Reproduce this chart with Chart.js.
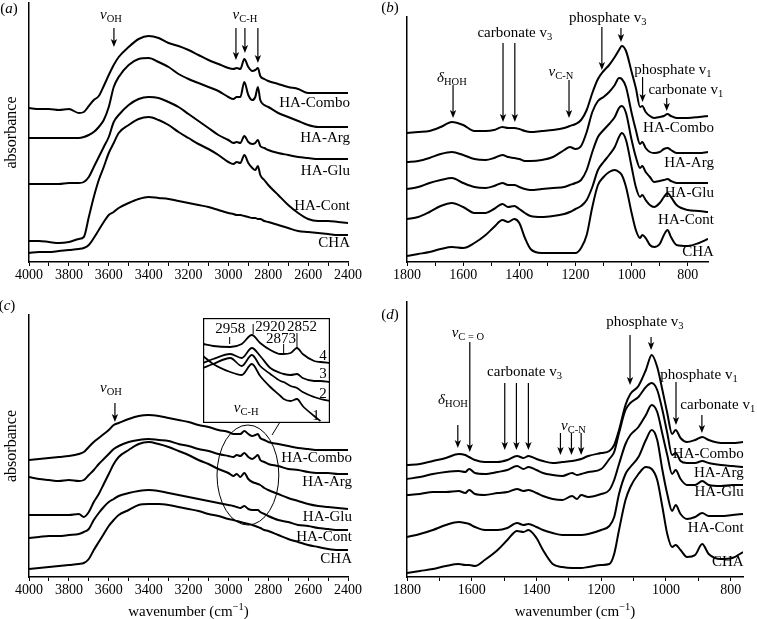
<!DOCTYPE html>
<html>
<head>
<meta charset="utf-8">
<script src="https://cdn.jsdelivr.net/npm/chart.js@4.4.0/dist/chart.umd.min.js"></script>
<style>
  body { margin: 0; background: #fff; overflow: hidden; }
  #wrap { position: relative; width: 757px; height: 619px; }
  canvas { position: absolute; }
</style>
</head>
<body>
<div id="wrap">
  <canvas id="ca" width="378" height="300" style="left:0;top:0"></canvas>
  <canvas id="cb" width="379" height="300" style="left:378px;top:0"></canvas>
  <canvas id="cc" width="378" height="319" style="left:0;top:300px"></canvas>
  <canvas id="cd" width="379" height="319" style="left:378px;top:300px"></canvas>
  <canvas id="cin" width="127" height="105" style="left:203px;top:318px"></canvas>
</div>
<script>
var FONT = '"Liberation Serif", "Times New Roman", serif';
var seriesNames = ['HA-Combo', 'HA-Arg', 'HA-Glu', 'HA-Cont', 'CHA'];

// tick values
var ticksHigh = [4000, 3900, 3800, 3700, 3600, 3500, 3400, 3300, 3200, 3100, 3000, 2900, 2800, 2700, 2600, 2500, 2400];
var ticksLow = [1800, 1700, 1600, 1500, 1400, 1300, 1200, 1100, 1000, 900, 800];

// panels (a) and (c): wavenumber grid
var waveAC = [4000, 3950, 3900, 3850, 3800, 3750, 3725, 3700, 3675, 3650, 3625, 3600, 3575, 3550, 3500,
  3450, 3400, 3350, 3300, 3250, 3200, 3150, 3100, 3050, 3000, 2975, 2958, 2940, 2920, 2900,
  2880, 2865, 2852, 2840, 2820, 2800, 2750, 2700, 2650, 2600, 2550, 2500, 2450, 2400];

var aCombo = [1.54, 1.53, 1.53, 1.52, 1.53, 1.49, 1.50, 1.56, 1.62, 1.66, 1.76, 1.87, 1.97, 2.05, 2.15,
  2.23, 2.26, 2.24, 2.19, 2.16, 2.12, 2.07, 2.02, 1.98, 1.94, 1.93, 1.94, 1.93, 2.03, 1.95,
  1.91, 1.92, 1.94, 1.86, 1.83, 1.81, 1.78, 1.75, 1.73, 1.69, 1.69, 1.69, 1.69, 1.69];
var aArg = [1.24, 1.24, 1.24, 1.24, 1.24, 1.24, 1.25, 1.27, 1.30, 1.35, 1.42, 1.55, 1.75, 1.85, 1.97,
  2.03, 2.04, 2.00, 1.95, 1.88, 1.83, 1.79, 1.75, 1.71, 1.65, 1.63, 1.65, 1.65, 1.80, 1.67,
  1.62, 1.65, 1.75, 1.62, 1.57, 1.55, 1.49, 1.45, 1.41, 1.37, 1.35, 1.35, 1.35, 1.35];
var aGlu = [0.78, 0.78, 0.78, 0.78, 0.79, 0.79, 0.80, 0.85, 0.95, 1.05, 1.15, 1.25, 1.40, 1.47, 1.57,
  1.63, 1.65, 1.64, 1.60, 1.55, 1.48, 1.41, 1.34, 1.27, 1.22, 1.19, 1.20, 1.19, 1.26, 1.20,
  1.18, 1.19, 1.22, 1.16, 1.14, 1.12, 1.09, 1.07, 1.05, 1.04, 1.03, 1.03, 1.03, 1.03];
var aCont = [0.21, 0.21, 0.20, 0.19, 0.20, 0.23, 0.25, 0.45, 0.65, 0.82, 0.95, 1.09, 1.19, 1.29, 1.37,
  1.43, 1.45, 1.42, 1.37, 1.30, 1.24, 1.18, 1.13, 1.07, 1.00, 0.98, 1.00, 0.99, 1.07, 0.99,
  0.94, 0.92, 0.96, 0.87, 0.82, 0.77, 0.67, 0.57, 0.49, 0.43, 0.41, 0.41, 0.40, 0.39];
var aCHA = [0.09, 0.10, 0.10, 0.11, 0.12, 0.13, 0.14, 0.17, 0.24, 0.32, 0.40, 0.47, 0.50, 0.54, 0.59,
  0.63, 0.65, 0.64, 0.63, 0.61, 0.59, 0.57, 0.55, 0.52, 0.49, 0.48, 0.47, 0.47, 0.46, 0.45,
  0.44, 0.44, 0.43, 0.43, 0.41, 0.40, 0.37, 0.34, 0.31, 0.30, 0.29, 0.28, 0.27, 0.27];

var cCombo = [1.17, 1.18, 1.19, 1.20, 1.21, 1.23, 1.25, 1.30, 1.35, 1.39, 1.43, 1.47, 1.52, 1.54, 1.58,
  1.61, 1.62, 1.61, 1.59, 1.57, 1.55, 1.52, 1.50, 1.47, 1.45, 1.43, 1.43, 1.43, 1.46, 1.43,
  1.41, 1.42, 1.43, 1.39, 1.37, 1.35, 1.33, 1.31, 1.29, 1.28, 1.27, 1.27, 1.27, 1.27];
var cArg = [1.00, 0.98, 0.97, 0.96, 0.97, 0.96, 0.97, 1.02, 1.07, 1.13, 1.18, 1.23, 1.28, 1.31, 1.35,
  1.37, 1.38, 1.37, 1.36, 1.33, 1.31, 1.28, 1.26, 1.23, 1.21, 1.20, 1.22, 1.21, 1.24, 1.20,
  1.18, 1.20, 1.22, 1.17, 1.15, 1.13, 1.11, 1.08, 1.07, 1.05, 1.04, 1.04, 1.03, 1.03];
var cGlu = [0.62, 0.62, 0.62, 0.62, 0.62, 0.63, 0.60, 0.65, 0.75, 0.83, 0.93, 1.03, 1.13, 1.20, 1.27,
  1.33, 1.35, 1.33, 1.30, 1.26, 1.22, 1.17, 1.13, 1.08, 1.04, 1.01, 1.03, 1.00, 1.04, 0.98,
  0.95, 0.94, 0.93, 0.92, 0.89, 0.87, 0.83, 0.79, 0.76, 0.73, 0.71, 0.70, 0.69, 0.68];
var cCont = [0.39, 0.40, 0.41, 0.41, 0.42, 0.43, 0.45, 0.48, 0.57, 0.64, 0.70, 0.75, 0.78, 0.81, 0.84,
  0.86, 0.87, 0.86, 0.84, 0.82, 0.80, 0.78, 0.76, 0.74, 0.72, 0.71, 0.70, 0.69, 0.71, 0.68,
  0.67, 0.67, 0.67, 0.65, 0.63, 0.61, 0.57, 0.55, 0.52, 0.51, 0.49, 0.48, 0.47, 0.47];
var cCHA = [0.08, 0.09, 0.10, 0.11, 0.12, 0.13, 0.14, 0.18, 0.27, 0.35, 0.43, 0.51, 0.57, 0.62, 0.67,
  0.72, 0.73, 0.73, 0.72, 0.70, 0.68, 0.66, 0.63, 0.61, 0.58, 0.57, 0.56, 0.55, 0.54, 0.53,
  0.52, 0.51, 0.50, 0.49, 0.47, 0.46, 0.42, 0.38, 0.35, 0.32, 0.30, 0.28, 0.27, 0.27];

// panel (b)
var waveB = [1800, 1760, 1720, 1680, 1640, 1600, 1560, 1520, 1490, 1460, 1440, 1418, 1400, 1380, 1360,
  1320, 1280, 1240, 1220, 1200, 1180, 1160, 1140, 1120, 1100, 1080, 1060, 1045, 1035, 1020,
  1000, 985, 970, 962, 950, 935, 920, 900, 885, 872, 860, 840, 800, 760, 728];
var bCombo = [1.29, 1.30, 1.31, 1.35, 1.40, 1.37, 1.31, 1.31, 1.32, 1.35, 1.34, 1.34, 1.33, 1.31, 1.30,
  1.31, 1.32, 1.34, 1.36, 1.38, 1.42, 1.52, 1.69, 1.83, 1.91, 1.97, 2.05, 2.12, 2.16, 2.11,
  1.90, 1.74, 1.55, 1.56, 1.50, 1.46, 1.44, 1.45, 1.46, 1.48, 1.46, 1.44, 1.44, 1.45, 1.46];
var bArg = [1.00, 1.01, 1.04, 1.08, 1.10, 1.07, 1.03, 1.02, 1.04, 1.07, 1.05, 1.04, 1.03, 1.01, 1.01,
  1.02, 1.05, 1.12, 1.15, 1.13, 1.16, 1.30, 1.50, 1.61, 1.65, 1.70, 1.77, 1.84, 1.83, 1.75,
  1.49, 1.32, 1.18, 1.20, 1.14, 1.10, 1.09, 1.10, 1.13, 1.14, 1.12, 1.09, 1.09, 1.09, 1.10];
var bGlu = [0.73, 0.75, 0.79, 0.82, 0.84, 0.79, 0.75, 0.74, 0.76, 0.79, 0.77, 0.77, 0.75, 0.73, 0.72,
  0.73, 0.74, 0.75, 0.77, 0.79, 0.82, 0.92, 1.10, 1.25, 1.32, 1.38, 1.45, 1.54, 1.56, 1.49,
  1.22, 1.05, 0.94, 0.96, 0.90, 0.85, 0.80, 0.81, 0.82, 0.83, 0.81, 0.79, 0.79, 0.79, 0.79];
var bCont = [0.43, 0.45, 0.50, 0.56, 0.59, 0.55, 0.49, 0.49, 0.53, 0.58, 0.55, 0.56, 0.53, 0.49, 0.46,
  0.45, 0.46, 0.48, 0.50, 0.53, 0.56, 0.62, 0.75, 0.92, 1.00, 1.07, 1.15, 1.25, 1.29, 1.22,
  0.95, 0.75, 0.65, 0.67, 0.62, 0.57, 0.55, 0.59, 0.65, 0.69, 0.65, 0.57, 0.52, 0.51, 0.50];
var bCHA = [0.06, 0.08, 0.10, 0.13, 0.15, 0.14, 0.19, 0.27, 0.35, 0.42, 0.40, 0.43, 0.39, 0.24, 0.13,
  0.09, 0.09, 0.09, 0.09, 0.09, 0.14, 0.27, 0.55, 0.77, 0.85, 0.90, 0.92, 0.90, 0.87, 0.75,
  0.49, 0.32, 0.24, 0.27, 0.24, 0.17, 0.15, 0.18, 0.27, 0.32, 0.25, 0.17, 0.16, 0.19, 0.23];

// panel (d)
var waveD = [1800, 1760, 1720, 1680, 1640, 1620, 1608, 1590, 1560, 1520, 1490, 1460, 1440, 1425, 1400,
  1380, 1350, 1320, 1290, 1275, 1262, 1240, 1200, 1175, 1160, 1145, 1125, 1110, 1085, 1062,
  1044, 1027, 1011, 996, 981, 970, 955, 935, 910, 888, 868, 830, 795, 762];
var dCombo = [1.12, 1.13, 1.16, 1.19, 1.23, 1.22, 1.20, 1.17, 1.15, 1.15, 1.17, 1.21, 1.19, 1.21, 1.18,
  1.16, 1.14, 1.15, 1.16, 1.17, 1.18, 1.21, 1.24, 1.26, 1.32, 1.47, 1.72, 1.83, 1.91, 2.07,
  2.22, 2.10, 1.87, 1.64, 1.43, 1.47, 1.39, 1.35, 1.37, 1.40, 1.37, 1.34, 1.34, 1.35];
var dArg = [0.98, 1.00, 1.03, 1.05, 1.06, 1.05, 1.08, 1.04, 1.03, 1.05, 1.07, 1.11, 1.08, 1.10, 1.07,
  1.04, 1.02, 1.01, 1.04, 1.02, 1.03, 1.05, 1.08, 1.18, 1.25, 1.44, 1.67, 1.74, 1.80, 1.90,
  1.94, 1.87, 1.67, 1.44, 1.22, 1.24, 1.16, 1.14, 1.14, 1.16, 1.14, 1.12, 1.11, 1.10];
var dGlu = [0.82, 0.83, 0.85, 0.85, 0.86, 0.84, 0.87, 0.83, 0.82, 0.84, 0.85, 0.88, 0.86, 0.87, 0.84,
  0.81, 0.78, 0.77, 0.81, 0.78, 0.82, 0.80, 0.83, 0.87, 0.97, 1.13, 1.33, 1.42, 1.50, 1.62,
  1.72, 1.65, 1.43, 1.22, 1.03, 1.07, 0.98, 0.92, 0.92, 0.96, 0.92, 0.91, 0.92, 0.92];
var dCont = [0.40, 0.43, 0.47, 0.52, 0.55, 0.54, 0.53, 0.50, 0.47, 0.47, 0.49, 0.54, 0.52, 0.53, 0.50,
  0.47, 0.44, 0.42, 0.42, 0.42, 0.42, 0.43, 0.47, 0.51, 0.60, 0.83, 1.03, 1.10, 1.20, 1.37,
  1.47, 1.37, 1.07, 0.83, 0.66, 0.72, 0.63, 0.58, 0.60, 0.64, 0.61, 0.61, 0.62, 0.63];
var dCHA = [0.04, 0.06, 0.08, 0.11, 0.13, 0.12, 0.12, 0.11, 0.17, 0.27, 0.37, 0.46, 0.45, 0.47, 0.39,
  0.27, 0.13, 0.10, 0.09, 0.09, 0.09, 0.10, 0.12, 0.13, 0.23, 0.47, 0.77, 0.90, 1.03, 1.10,
  1.08, 0.97, 0.70, 0.43, 0.30, 0.32, 0.27, 0.20, 0.22, 0.33, 0.23, 0.18, 0.19, 0.25];

// inset of panel (c), C-H stretching region, spectra 1-4
var waveInset = [3000, 2984, 2957, 2939, 2923, 2910, 2894, 2878, 2873, 2862, 2852, 2843, 2825, 2815, 2800];
var inset4 = [0.79, 0.77, 0.76, 0.79, 0.88, 0.80, 0.73, 0.69, 0.69, 0.70, 0.75, 0.69, 0.62, 0.61, 0.60];
var inset3 = [0.60, 0.64, 0.69, 0.65, 0.75, 0.67, 0.55, 0.50, 0.49, 0.48, 0.49, 0.45, 0.42, 0.42, 0.41];
var inset2 = [0.55, 0.59, 0.65, 0.57, 0.68, 0.57, 0.49, 0.42, 0.41, 0.37, 0.35, 0.31, 0.26, 0.24, 0.22];
var inset1 = [0.67, 0.59, 0.51, 0.48, 0.59, 0.47, 0.36, 0.27, 0.24, 0.22, 0.24, 0.17, 0.07, 0.02, null];

// annotations: [wavenumber, from, to]
var vOH = [['v', 'i'], ['OH', 's']];
var notesA = {
  letter: [9, 9],
  arrows: [[3574, 2.34, 2.15], [2962, 2.34, 2.02], [2917, 2.34, 2.09], [2852, 2.34, 1.99]],
  texts: [{ x: 3589, y: 2.47, parts: vOH }, { x: 2917, y: 2.47, parts: [['v', 'i'], ['C-H', 's']] }],
  labels: { x: 2390, ys: [1.59, 1.24, 0.91, 0.56, 0.19] }
};
var notesB = {
  letter: [12, 8],
  arrows: [[1636, 1.77, 1.44], [1458, 2.19, 1.40], [1416, 2.19, 1.40], [1223, 1.82, 1.44],
    [1106, 2.35, 1.92], [1038, 2.34, 2.20], [961, 1.85, 1.60], [875, 1.64, 1.51]],
  texts: [
    { x: 1640, y: 1.84, parts: [['δ', 'i'], ['HOH', 's']] },
    { x: 1416, y: 2.29, parts: [['carbonate v', ''], ['3', 's']] },
    { x: 1252, y: 1.90, parts: [['v', 'i'], ['C-N', 's']] },
    { x: 1085, y: 2.44, parts: [['phosphate v', ''], ['3', 's']] },
    { x: 853, y: 1.92, parts: [['phosphate v', ''], ['1', 's']] },
    { x: 807, y: 1.72, parts: [['carbonate v', ''], ['1', 's']] }
  ],
  labels: { x: 707, ys: [1.34, 0.99, 0.69, 0.42, 0.10] }
};
var notesC = {
  letter: [7, 6],
  arrows: [[3569, 1.74, 1.55]],
  texts: [{ x: 3589, y: 1.89, parts: vOH }],
  labels: { x: 2380, ys: [1.19, 0.95, 0.60, 0.40, 0.18] },
  ellipse: [2902, 1.02, 155, 0.50],
  link: [2781, 1.42, 2741, 1.55],
  xTitle: true
};
var notesD = {
  letter: [12, 15],
  arrows: [[1643, 1.52, 1.29], [1606, 2.35, 1.25], [1498, 1.94, 1.27], [1462, 1.94, 1.27], [1425, 1.94, 1.27],
    [1326, 1.44, 1.22], [1292, 1.44, 1.22], [1262, 1.44, 1.22], [1111, 2.42, 1.92], [1046, 2.40, 2.27],
    [969, 1.95, 1.52], [889, 1.62, 1.44]],
  texts: [
    { x: 1658, y: 1.77, parts: [['δ', 'i'], ['HOH', 's']] },
    { x: 1612, y: 2.44, parts: [['v', 'i'], ['C = O', 's']] },
    { x: 1437, y: 2.05, parts: [['carbonate v', ''], ['3', 's']] },
    { x: 1286, y: 1.51, parts: [['v', 'i'], ['C-N', 's']] },
    { x: 1065, y: 2.55, parts: [['phosphate v', ''], ['3', 's']] },
    { x: 898, y: 2.02, parts: [['phosphate v', ''], ['1', 's']] },
    { x: 840, y: 1.72, parts: [['carbonate v', ''], ['1', 's']] }
  ],
  labels: { x: 760, ys: [1.23, 1.04, 0.85, 0.49, 0.15] },
  xTitle: true
};
var notesInset = {
  marks: [[2958, 0.86, 0.79], [2921, 0.99, 0.89], [2873, 0.79, 0.70], [2852, 0.90, 0.75]],
  texts: [
    { x: 2957, y: 0.94, parts: [['2958', '']] },
    { x: 2894, y: 0.96, parts: [['2920', '']] },
    { x: 2844, y: 0.96, parts: [['2852', '']] },
    { x: 2877, y: 0.84, parts: [['2873', '']] },
    { x: 2932, y: 0.15, parts: [['v', 'i'], ['C-H', 's']] },
    { x: 2811, y: 0.67, parts: [['4', '']] },
    { x: 2811, y: 0.49, parts: [['3', '']] },
    { x: 2811, y: 0.29, parts: [['2', '']] },
    { x: 2822, y: 0.07, parts: [['1', '']] }
  ]
};

function partFont(st) {
  var small = st.indexOf('s') >= 0 || st.indexOf('S') >= 0;
  return (st.indexOf('i') >= 0 ? 'italic ' : '') + (small ? 10.5 : 15) + 'px ' + FONT;
}

function drawRich(ctx, parts, x, y, align) {
  var total = 0;
  var widths = parts.map(function (p) {
    ctx.font = partFont(p[1]);
    var w = ctx.measureText(p[0]).width;
    total += w;
    return w;
  });
  var cx = align === 'right' ? x - total : (align === 'left' ? x : x - total / 2);
  ctx.textAlign = 'left';
  ctx.textBaseline = 'middle';
  parts.forEach(function (p, i) {
    var dy = p[1].indexOf('s') >= 0 ? 4 : (p[1].indexOf('S') >= 0 ? -5 : 0);
    ctx.font = partFont(p[1]);
    ctx.fillText(p[0], cx, y + dy);
    cx += widths[i];
  });
}

function drawArrow(ctx, x, y1, y2) {
  ctx.lineWidth = 1.2;
  ctx.beginPath();
  ctx.moveTo(x, y1);
  ctx.lineTo(x, y2 - 5);
  ctx.stroke();
  ctx.beginPath();
  ctx.moveTo(x, y2);
  ctx.lineTo(x - 3.2, y2 - 8);
  ctx.lineTo(x, y2 - 6);
  ctx.lineTo(x + 3.2, y2 - 8);
  ctx.closePath();
  ctx.fill();
}

function notesPlugin(notes, letter) {
  return {
    id: 'notes',
    afterDraw: function (chart) {
      var ctx = chart.ctx;
      var xs = chart.scales.x, ys = chart.scales.y;
      var px = function (w) { return xs.getPixelForValue(w); };
      var py = function (v) { return ys.getPixelForValue(v); };
      ctx.save();
      ctx.fillStyle = '#000';
      ctx.strokeStyle = '#000';
      (notes.arrows || []).forEach(function (a) {
        drawArrow(ctx, px(a[0]), py(a[1]), py(a[2]));
      });
      (notes.marks || []).forEach(function (m) {
        ctx.lineWidth = 1;
        ctx.beginPath();
        ctx.moveTo(px(m[0]), py(m[1]));
        ctx.lineTo(px(m[0]), py(m[2]));
        ctx.stroke();
      });
      (notes.texts || []).forEach(function (t) {
        drawRich(ctx, t.parts, px(t.x), py(t.y), 'center');
      });
      if (notes.labels) {
        notes.labels.ys.forEach(function (v, i) {
          drawRich(ctx, [[seriesNames[i], '']], px(notes.labels.x), py(v), 'right');
        });
      }
      if (notes.ellipse) {
        var e = notes.ellipse;
        var cx = px(e[0]), cy = py(e[1]);
        ctx.lineWidth = 1;
        ctx.beginPath();
        ctx.ellipse(cx, cy, Math.abs(px(e[0] - e[2]) - cx), Math.abs(py(e[1] + e[3]) - cy), 0, 0, Math.PI * 2);
        ctx.stroke();
        var l = notes.link;
        ctx.beginPath();
        ctx.moveTo(px(l[0]), py(l[1]));
        ctx.lineTo(px(l[2]), py(l[3]));
        ctx.stroke();
      }
      if (notes.xTitle) {
        var area = chart.chartArea;
        drawRich(ctx, [['wavenumber (cm', ''], ['\u22121', 'S'], [')', '']],
          (area.left + area.right) / 2, area.bottom + 35, 'center');
      }
      if (letter) {
        drawRich(ctx, [['(', ''], [letter, 'i'], [')', '']], notes.letter[0], notes.letter[1], 'center');
      }
      ctx.restore();
    }
  };
}

function makePanel(id, waves, series, ticks, yMax, pad, xHeight, withTitle, notes, letter) {
  var datasets = series.map(function (ys) {
    return {
      data: waves.map(function (w, i) { return { x: w, y: ys[i] }; }),
      borderColor: '#000',
      borderWidth: 2,
      pointRadius: 0,
      fill: false,
      cubicInterpolationMode: 'monotone'
    };
  });
  return new Chart(document.getElementById(id), {
    type: 'line',
    data: { datasets: datasets },
    options: {
      responsive: false,
      animation: false,
      layout: { padding: pad },
      plugins: { legend: { display: false }, tooltip: { enabled: false } },
      scales: {
        x: {
          type: 'linear',
          reverse: true,
          min: ticks[ticks.length - 1] > waves[waves.length - 1] ? waves[waves.length - 1] : ticks[ticks.length - 1],
          max: ticks[0],
          afterBuildTicks: function (s) { s.ticks = ticks.map(function (v) { return { value: v }; }); },
          afterFit: function (s) { s.height = xHeight; },
          ticks: {
            autoSkip: false,
            maxRotation: 0,
            padding: 1,
            color: '#000',
            font: { family: FONT, size: 14 },
            callback: function (v) { return v % 200 === 0 ? String(v) : ''; }
          },
          grid: { drawOnChartArea: false, drawTicks: true, tickLength: 4, color: '#000', lineWidth: 1 },
          border: { display: true, color: '#000', width: 1.5 }
        },
        y: {
          min: 0,
          max: yMax,
          afterFit: function (s) { s.width = 29; },
          ticks: { display: false },
          grid: { display: false },
          border: { display: true, color: '#000', width: 1.5 },
          title: {
            display: withTitle,
            text: 'absorbance',
            color: '#000',
            font: { family: FONT, size: 16 },
            padding: { top: 2, bottom: 0 }
          }
        }
      }
    },
    plugins: [notesPlugin(notes, letter)]
  });
}

makePanel('ca', waveAC, [aCombo, aArg, aGlu, aCont, aCHA], ticksHigh, 2.59,
  { left: 0, top: 3, right: 30, bottom: 0 }, 38, true, notesA, 'a');
makePanel('cb', waveB, [bCombo, bArg, bGlu, bCont, bCHA], ticksLow, 2.45,
  { left: 0, top: 17, right: 49, bottom: 0 }, 38, false, notesB, 'b');
makePanel('cc', waveAC, [cCombo, cArg, cGlu, cCont, cCHA], ticksHigh, 2.62,
  { left: 0, top: 15, right: 30, bottom: 0 }, 42, true, notesC, 'c');
makePanel('cd', waveD, [dCombo, dArg, dGlu, dCont, dCHA], ticksLow, 2.75,
  { left: 0, top: 2, right: 14, bottom: 0 }, 42, false, notesD, 'd');

// inset chart
new Chart(document.getElementById('cin'), {
  type: 'line',
  data: {
    datasets: [inset4, inset3, inset2, inset1].map(function (ys) {
      return {
        data: waveInset.map(function (w, i) { return { x: w, y: ys[i] }; }),
        borderColor: '#000',
        borderWidth: 1.8,
        pointRadius: 0,
        fill: false,
        cubicInterpolationMode: 'monotone'
      };
    })
  },
  options: {
    responsive: false,
    animation: false,
    layout: { padding: 0 },
    plugins: { legend: { display: false }, tooltip: { enabled: false } },
    scales: {
      x: { type: 'linear', reverse: true, min: 2800, max: 3000, display: false },
      y: { min: 0, max: 1.05, display: false }
    }
  },
  plugins: [{
    id: 'box',
    beforeDraw: function (chart) {
      var ctx = chart.ctx;
      ctx.save();
      ctx.fillStyle = '#fff';
      ctx.fillRect(0, 0, chart.width, chart.height);
      ctx.restore();
    },
    afterDraw: function (chart) {
      var ctx = chart.ctx;
      ctx.save();
      ctx.strokeStyle = '#000';
      ctx.lineWidth = 1.2;
      ctx.strokeRect(0.6, 0.6, chart.width - 1.2, chart.height - 1.2);
      ctx.restore();
    }
  }, notesPlugin(notesInset, null)]
});
</script>
</body>
</html>
